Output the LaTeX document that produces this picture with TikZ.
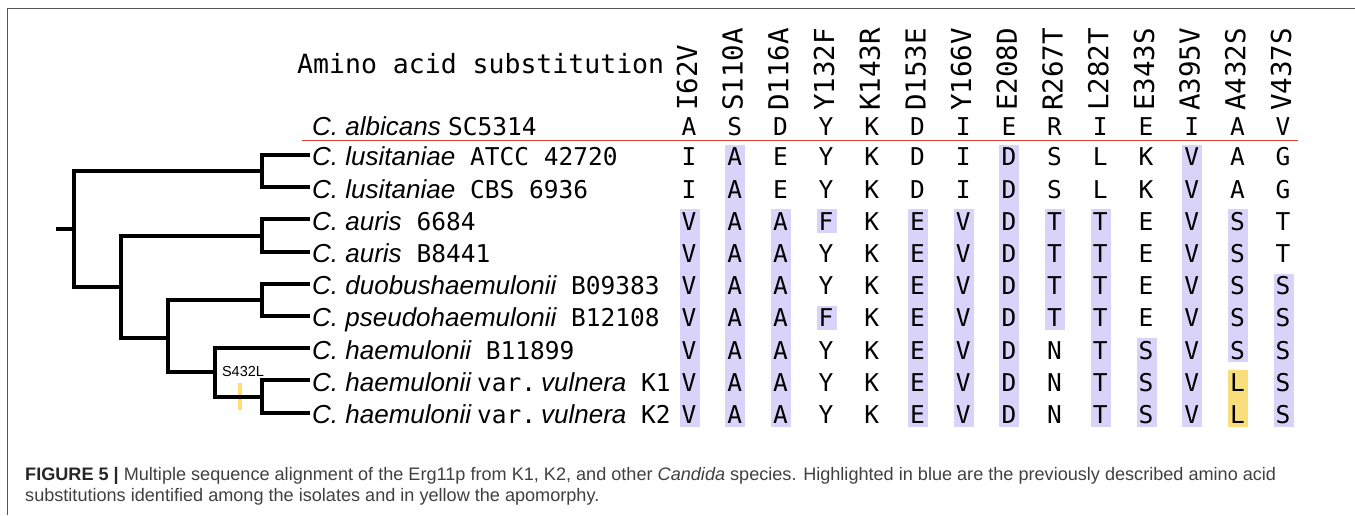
\documentclass[tikz,border=0pt]{standalone}
\usepackage{fontspec}
\setmainfont{Liberation Sans}
\newfontfamily\monofam{DejaVu Sans Mono}
\definecolor{hlblue}{HTML}{D9D3FA}
\definecolor{hlyellow}{HTML}{F8DF7B}
\definecolor{baryellow}{HTML}{FFDD70}
\definecolor{redline}{HTML}{E0403A}
\definecolor{framegray}{HTML}{555555}
\definecolor{captext}{HTML}{404040}
\newcommand\spcname[1]{{\itshape #1}}
\newcommand\mncode[1]{{\monofam\upshape\fontsize{24.5}{24.5}\selectfont #1}}
\begin{document}
\begin{tikzpicture}[x=1pt,y=-1pt,
  treeline/.style={line width=4pt, black},
  cellfont/.style={font=\monofam\fontsize{24.5}{24.5}\selectfont},
  cell/.style={cellfont, anchor=base, inner sep=0pt},
  colhead/.style={font=\monofam\fontsize{27.5}{27.5}\selectfont, rotate=90, anchor=west, inner sep=0pt},
  rowlab/.style={font=\fontsize{26}{26}\selectfont, anchor=base west, inner sep=0pt},
  captionline/.style={font=\fontsize{18.1}{18.1}\selectfont, text=captext, anchor=base west, inner sep=0pt}
]
\useasboundingbox (0,0) rectangle (1355,515);
\fill[white] (0,0) rectangle (1355,515);
% frame
\draw[framegray, line width=1.5pt] (7.5,515) -- (7.5,8.5) -- (1355,8.5);

% highlight runs (column / first row / last row)
\foreach \c/\a/\b in {0/2/8,1/0/8,2/2/8,3/2/2,3/5/5,5/2/8,6/2/8,7/0/8,8/2/5,9/2/8,10/6/8,11/0/8,12/2/6,13/4/8}
  \fill[hlblue] ({689.5+45.7*\c-10},{155+32.2*\a+2-12}) rectangle ({689.5+45.7*\c+10},{155+32.2*\b+2+12});
\fill[hlyellow] ({689.5+45.7*12-10},{155+32.2*7+2-12}) rectangle ({689.5+45.7*12+10},{155+32.2*8+2+12});

% header
\node[font=\monofam\fontsize{26.5}{26.5}\selectfont, anchor=base west, inner sep=0pt] (aas) at (297,73) {Amino acid substitution};
\foreach \t [count=\j from 0] in {I62V,S110A,D116A,Y132F,K143R,D153E,Y166V,E208D,R267T,L282T,E343S,A395V,A432S,V437S}
  \node[colhead] (h\j) at ({687+45.7*\j},111) {\t};

% reference row
\node[rowlab] (alb) at (312,135) {\itshape C. albicans \mncode{SC5314}};
\foreach \t [count=\j from 0] in {A,S,D,Y,K,D,I,E,R,I,E,I,A,V}
  \node[cell] (a\j) at ({689+45.7*\j},135) {\t};
\draw[redline, line width=1.3pt] (302,140.5) -- (1298,140.5);

% alignment rows
\foreach \i/\row in {
  0/{I,A,E,Y,K,D,I,D,S,L,K,V,A,G},
  1/{I,A,E,Y,K,D,I,D,S,L,K,V,A,G},
  2/{V,A,A,F,K,E,V,D,T,T,E,V,S,T},
  3/{V,A,A,Y,K,E,V,D,T,T,E,V,S,T},
  4/{V,A,A,Y,K,E,V,D,T,T,E,V,S,S},
  5/{V,A,A,F,K,E,V,D,T,T,E,V,S,S},
  6/{V,A,A,Y,K,E,V,D,N,T,S,V,S,S},
  7/{V,A,A,Y,K,E,V,D,N,T,S,V,L,S},
  8/{V,A,A,Y,K,E,V,D,N,T,S,V,L,S}} {
  \foreach \t [count=\j from 0] in \row
    \node[cell] (c\i-\j) at ({689+45.7*\j},{155+32.2*\i+10.8}) {\t};
}

% row labels
\foreach \i/\t in {
  0/{\spcname{C. lusitaniae}\mncode{ ATCC 42720}},
  1/{\spcname{C. lusitaniae}\mncode{ CBS 6936}},
  2/{\spcname{C. auris}\mncode{ 6684}},
  3/{\spcname{C. auris}\mncode{ B8441}},
  4/{\spcname{C. duobushaemulonii}\mncode{ B09383}},
  5/{\spcname{C. pseudohaemulonii}\mncode{ B12108}},
  6/{\spcname{C. haemulonii}\mncode{ B11899}},
  7/{\spcname{C. haemulonii}\kern6pt\mncode{var.}\kern5pt\spcname{vulnera}\mncode{ K1}},
  8/{\spcname{C. haemulonii}\kern6pt\mncode{var.}\kern5pt\spcname{vulnera}\mncode{ K2}}} {
  \node[rowlab] (lab\i) at (312,{155+32.2*\i+10.8}) {\t};
  \coordinate (l\i) at (310,{155+32.2*\i});
}

% tree nodes
\coordinate (stub) at (56,229.2);
\coordinate (root) at (74,229.2);
\coordinate (nL) at (262,171.1);
\coordinate (nR) at (121,286.9);
\coordinate (nA) at (262,235.5);
\coordinate (nB) at (168,337.5);
\coordinate (nD) at (262,299.9);
\coordinate (nH) at (215,372.4);
\coordinate (nK) at (262,396.5);

% apomorphy mark
\fill[baryellow] (238,383) rectangle (242,410);
\node[font=\fontsize{14.5}{14.5}\selectfont, inner sep=0pt] (apo) at (243,371.5) {S432L};

\draw[treeline] (stub) -- (root);
\draw[treeline] (root) |- (nL);
\draw[treeline] (root) |- (nR);
\draw[treeline] (nL) |- (l0);
\draw[treeline] (nL) |- (l1);
\draw[treeline] (nR) |- (nA);
\draw[treeline] (nR) |- (nB);
\draw[treeline] (nA) |- (l2);
\draw[treeline] (nA) |- (l3);
\draw[treeline] (nB) |- (nD);
\draw[treeline] (nB) |- (nH);
\draw[treeline] (nD) |- (l4);
\draw[treeline] (nD) |- (l5);
\draw[treeline] (nH) |- (l6);
\draw[treeline] (nH) |- (nK);
\draw[treeline] (nK) |- (l7);
\draw[treeline] (nK) |- (l8);

% caption
\node[captionline] (cap1) at (25,480) {{\bfseries\color{black!85}FIGURE 5 |} Multiple sequence alignment of the Erg11p from K1, K2, and other {\itshape Candida} species. Highlighted in blue are the previously described amino acid};
\node[captionline] (cap2) at (25,501.5) {substitutions identified among the isolates and in yellow the apomorphy.};
\end{tikzpicture}
\end{document}
